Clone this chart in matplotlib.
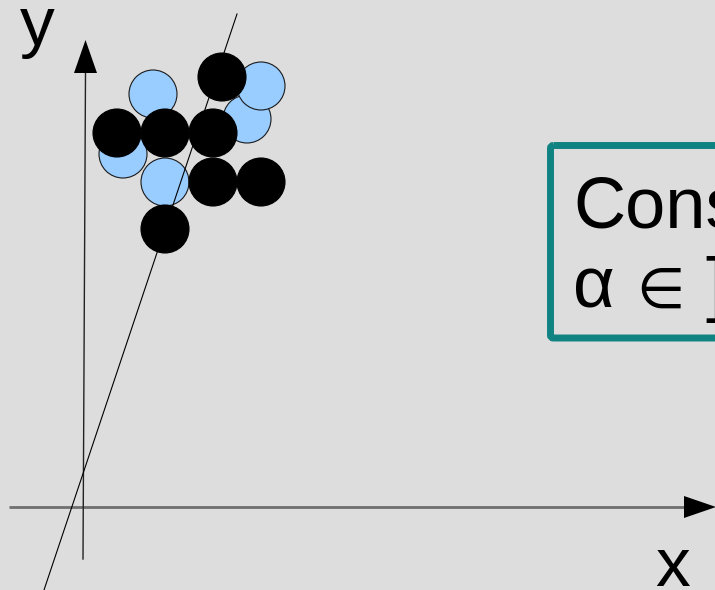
import matplotlib
matplotlib.use("Agg")
import matplotlib.pyplot as plt
from matplotlib.patches import Circle, FancyBboxPatch, Polygon

# ---- data (pixel-space diagram coordinates) ----
blue_x = [153, 123, 165, 247, 261]
blue_y = [94, 154, 182, 119, 86]
black_x = [222, 117, 165, 213, 213, 261, 165]
black_y = [77, 133, 133, 133, 182, 182, 229]
radius = 24
line_x = [44, 237]
line_y = [590, 14]
label_x = "x"
label_y = "y"
box_line1 = "Constante"
box_alpha = "α"
box_in = "∈"
box_interval = "]0, 1["

W, H = 715, 590
fig = plt.figure(figsize=(W / 100, H / 100), dpi=100)
fig.patch.set_facecolor("#dddddd")
ax = fig.add_axes([0, 0, 1, 1])
ax.set_xlim(0, W)
ax.set_ylim(H, 0)
ax.set_aspect("equal")
ax.axis("off")
ax.set_facecolor("#dddddd")

# axes of the diagram
ax.plot([9, 686], [507, 507], color="#6f6f6f", lw=2.0, zorder=1, solid_capstyle="butt")
ax.add_patch(Polygon([[684, 496], [684, 518], [716, 507]], closed=True,
                     facecolor="black", edgecolor="none", zorder=2))
ax.plot([83, 85.5], [559, 73], color="#222222", lw=1.0, zorder=1)
ax.add_patch(Polygon([[74, 73], [97, 73], [85.5, 40]], closed=True,
                     facecolor="black", edgecolor="none", zorder=2))

# blue circles
for cx, cy in zip(blue_x, blue_y):
    ax.add_patch(Circle((cx, cy), radius, facecolor="#99ccff", edgecolor="#1a1a1a",
                        lw=0.8, zorder=3))

# slanted line
ax.plot(line_x, line_y, color="black", lw=0.8, zorder=4)

# black circles
for cx, cy in zip(black_x, black_y):
    ax.add_patch(Circle((cx, cy), radius, facecolor="black", edgecolor="black",
                        lw=0.8, zorder=5))

font = ["Liberation Sans", "DejaVu Sans"]
ax.text(20, 45, label_y, fontsize=50, family=font, va="baseline", ha="left")
ax.text(655, 586, label_x, fontsize=50, family=font, va="baseline", ha="left")

# text box
ax.add_patch(FancyBboxPatch((550.5, 145.5), 300, 192.5,
                            boxstyle="round,pad=0,rounding_size=3",
                            facecolor="none", edgecolor="#0f8282", lw=5.0, zorder=6))
ax.text(573, 227, box_line1, fontsize=52, family=font, va="baseline", ha="left", zorder=7)
ax.text(573, 308, box_alpha, fontsize=52, family=font, va="baseline", ha="left", zorder=7)
ax.text(636, 308, box_in, fontsize=40, family=["DejaVu Sans", "Noto Sans"],
        va="baseline", ha="left", zorder=7)
ax.text(706, 308, box_interval, fontsize=52, family=font, va="baseline", ha="left", zorder=7)

fig.savefig("out.png", dpi=100, facecolor=fig.get_facecolor())
